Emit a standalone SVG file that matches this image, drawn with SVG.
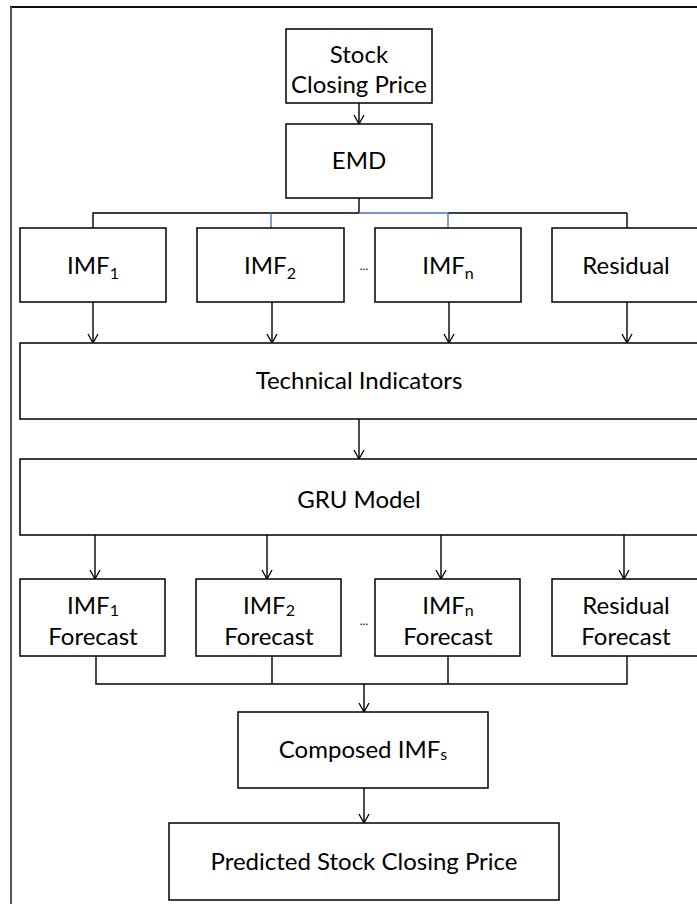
<svg xmlns="http://www.w3.org/2000/svg" width="697" height="904" viewBox="0 0 697 904">
  <defs>
    <marker id="arrow" markerWidth="12" markerHeight="12" refX="11" refY="6" orient="auto" markerUnits="userSpaceOnUse" viewBox="0 0 12 12">
      <path d="M2,1 L11,6 L2,11" fill="none" stroke="#000" stroke-width="1.3"/>
    </marker>
  </defs>
  <style>
    .box { fill: #fff; stroke: #000; stroke-width: 1.5; }
    .lbl { font-family: Lato, "Open Sans", "Liberation Sans", sans-serif; font-size: 24px; fill: #000; text-anchor: middle; }
    .sub { font-size: 16px; }
    .dots { font-family: Lato, "Liberation Sans", sans-serif; font-size: 12px; fill: #000; text-anchor: middle; }
    .wire { fill: none; stroke: #000; stroke-width: 1.4; }
    .wire-blue { fill: none; stroke: #4472C4; stroke-width: 1.4; }
    .arr { fill: none; stroke: #000; stroke-width: 1.4; marker-end: url(#arrow); }
  </style>
  <rect width="697" height="904" fill="#fff"/>

  <!-- outer frame -->
  <g id="frame">
    <line x1="10" y1="7" x2="697" y2="7" stroke="#111" stroke-width="2"/>
    <line x1="11" y1="7" x2="11" y2="904" stroke="#555" stroke-width="2"/>
  </g>

  <!-- connectors -->
  <g id="connectors">
    <line class="arr" x1="359" y1="103" x2="359" y2="124"/>
    <!-- EMD fan-out -->
    <path class="wire" d="M359,198 V213 M93,228 V213 H359 M627,213 V228 M448,213 H627"/>
    <path class="wire-blue" d="M271,228 V213 M359,213 H448 V228"/>
    <!-- IMFs to technical indicators -->
    <line class="arr" x1="93" y1="302" x2="93" y2="343"/>
    <line class="arr" x1="272" y1="302" x2="272" y2="343"/>
    <line class="arr" x1="449" y1="302" x2="449" y2="343"/>
    <line class="arr" x1="627" y1="302" x2="627" y2="343"/>
    <!-- technical indicators to GRU -->
    <line class="arr" x1="359" y1="419" x2="359" y2="459"/>
    <!-- GRU to forecasts -->
    <line class="arr" x1="95" y1="535" x2="95" y2="579"/>
    <line class="arr" x1="267" y1="535" x2="267" y2="579"/>
    <line class="arr" x1="441" y1="535" x2="441" y2="579"/>
    <line class="arr" x1="624" y1="535" x2="624" y2="579"/>
    <!-- forecasts merge -->
    <path class="wire" d="M96,656 V684 H627 V656 M272,656 V684 M448,656 V684"/>
    <line class="arr" x1="364" y1="684" x2="364" y2="712"/>
    <line class="arr" x1="364" y1="788" x2="364" y2="823"/>
  </g>

  <g id="stock">
    <rect class="box" x="286" y="29" width="146" height="74"/>
    <text class="lbl" x="359" y="63">Stock</text>
    <text class="lbl" x="359" y="93">Closing Price</text>
  </g>

  <g id="emd">
    <rect class="box" x="286" y="124" width="146" height="74"/>
    <text class="lbl" x="359" y="169">EMD</text>
  </g>

  <g id="imf1">
    <rect class="box" x="20" y="228" width="146" height="74"/>
    <text class="lbl" x="93" y="274">IMF<tspan class="sub" dy="5">1</tspan></text>
  </g>
  <g id="imf2">
    <rect class="box" x="197" y="228" width="147" height="74"/>
    <text class="lbl" x="270" y="274">IMF<tspan class="sub" dy="5">2</tspan></text>
  </g>
  <text class="dots" x="364" y="270">...</text>
  <g id="imfn">
    <rect class="box" x="375" y="228" width="146" height="74"/>
    <text class="lbl" x="448" y="274">IMF<tspan class="sub" dy="5">n</tspan></text>
  </g>
  <g id="residual">
    <rect class="box" x="552" y="228" width="147" height="74"/>
    <text class="lbl" x="626" y="274">Residual</text>
  </g>

  <g id="technical-indicators">
    <rect class="box" x="20" y="343" width="680" height="76"/>
    <text class="lbl" x="359" y="389">Technical Indicators</text>
  </g>

  <g id="gru-model">
    <rect class="box" x="20" y="459" width="680" height="76"/>
    <text class="lbl" x="359" y="508">GRU Model</text>
  </g>

  <g id="imf1-forecast">
    <rect class="box" x="20" y="579" width="145" height="77"/>
    <text class="lbl" x="93" y="614">IMF<tspan class="sub" dy="2">1</tspan></text>
    <text class="lbl" x="93" y="645">Forecast</text>
  </g>
  <g id="imf2-forecast">
    <rect class="box" x="196" y="579" width="145" height="77"/>
    <text class="lbl" x="269" y="614">IMF<tspan class="sub" dy="2">2</tspan></text>
    <text class="lbl" x="269" y="645">Forecast</text>
  </g>
  <text class="dots" x="364" y="625">...</text>
  <g id="imfn-forecast">
    <rect class="box" x="375" y="579" width="145" height="77"/>
    <text class="lbl" x="448" y="614">IMF<tspan class="sub" dy="2">n</tspan></text>
    <text class="lbl" x="448" y="645">Forecast</text>
  </g>
  <g id="residual-forecast">
    <rect class="box" x="552" y="579" width="147" height="77"/>
    <text class="lbl" x="626" y="614">Residual</text>
    <text class="lbl" x="626" y="645">Forecast</text>
  </g>

  <g id="composed-imfs">
    <rect class="box" x="238" y="712" width="250" height="76"/>
    <text class="lbl" x="363" y="758">Composed IMF<tspan class="sub" dy="2">s</tspan></text>
  </g>

  <g id="predicted-price">
    <rect class="box" x="169" y="823" width="390" height="77"/>
    <text class="lbl" x="364" y="870">Predicted Stock Closing Price</text>
  </g>
</svg>
